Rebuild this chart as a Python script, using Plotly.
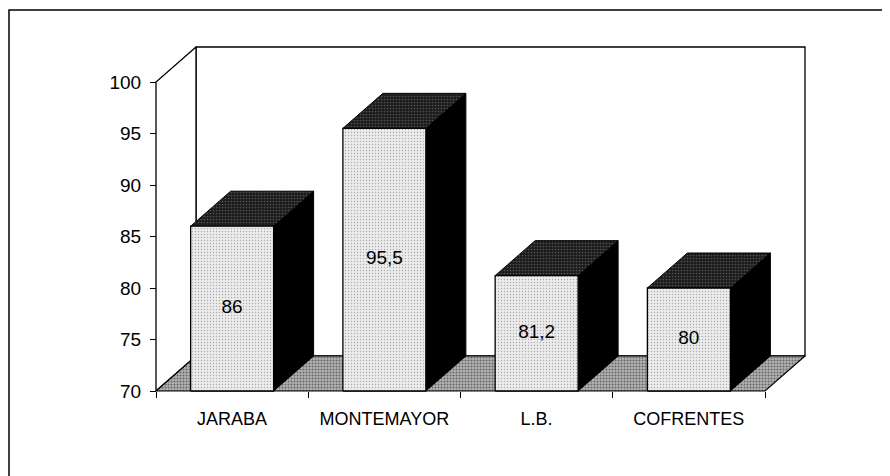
import plotly.graph_objects as go

# ---- data ----
categories = ["JARABA", "MONTEMAYOR", "L.B.", "COFRENTES"]
values = [86, 95.5, 81.2, 80]
value_labels = [f"{v:g}".replace(".", ",") for v in values]
y_ticks = [70, 75, 80, 85, 90, 95, 100]

# ---- geometry ----
W, H = 890, 476
OFF = 8                      # page body margin
X_PX_PER_UNIT = 152.25
Y_PX_PER_UNIT = 10.3
X0_PX = 156 - OFF            # figure pixel of x = -0.5
Y70_PX = 391 - OFF           # figure pixel of y = 70
x_range = [-0.5 - X0_PX / X_PX_PER_UNIT, -0.5 + (W - X0_PX) / X_PX_PER_UNIT]
y_range = [70 - (H - Y70_PX) / Y_PX_PER_UNIT, 70 + Y70_PX / Y_PX_PER_UNIT]
DX = 40 / X_PX_PER_UNIT
DY = 35 / Y_PX_PER_UNIT
BW = 0.545
YMIN, YMAX = 70, 100
XL, XR = -0.5, len(categories) - 0.5

FONT = "Arial, Liberation Sans, sans-serif"

fig = go.Figure()


def poly(xs, ys, fill, line_color="black", pattern=None, width=1):
    kw = {}
    if pattern:
        kw["fillpattern"] = pattern
    fig.add_trace(go.Scatter(
        x=xs + [xs[0]], y=ys + [ys[0]], mode="lines", fill="toself",
        fillcolor=fill, line=dict(color=line_color, width=width),
        hoverinfo="skip", showlegend=False, **kw))


# back wall
poly([XL + DX, XR + DX, XR + DX, XL + DX],
     [YMIN + DY, YMIN + DY, YMAX + DY, YMAX + DY], "white", width=1.3)
# left wall
poly([XL, XL, XL + DX, XL + DX],
     [YMIN, YMAX, YMAX + DY, YMIN + DY], "white", width=1.3)
# floor
poly([XL, XR, XR + DX, XL + DX],
     [YMIN, YMIN, YMIN + DY, YMIN + DY], "#9c9c9c", width=1.2,
     pattern=dict(shape=".", bgcolor="#b4b4b4", fgcolor="#1a1a1a",
                  size=3, solidity=0.4))

# bars: side, top and front faces
for i, v in enumerate(values):
    r = i + BW / 2
    l = i - BW / 2
    poly([r, r, r + DX, r + DX], [YMIN, v, v + DY, YMIN + DY], "black")
    poly([l, r, r + DX, l + DX], [v, v, v + DY, v + DY], "#2a2a2a",
         pattern=dict(shape=".", bgcolor="#1c1c1c", fgcolor="#8a8a8a",
                      size=3, solidity=0.25))
    poly([l, r, r, l], [YMIN, YMIN, v, v], "#e2e2e2", width=1.3,
         pattern=dict(shape=".", bgcolor="#ececec", fgcolor="#6a6a6a",
                      size=3, solidity=0.18))

# value labels inside the front faces
fig.add_trace(go.Scatter(
    x=list(range(len(categories))),
    y=[(YMIN + v) / 2 for v in values],
    mode="text", text=value_labels, textposition="middle center",
    textfont=dict(family=FONT, size=19, color="black"),
    hoverinfo="skip", showlegend=False))

fig.update_layout(
    width=W, height=H,
    margin=dict(l=0, r=0, t=0, b=0),
    paper_bgcolor="white", plot_bgcolor="white",
    font=dict(family=FONT, color="black"),
    showlegend=False,
    xaxis=dict(
        range=x_range, anchor="free", position=(H - Y70_PX) / H,
        showgrid=False, zeroline=False, showline=False,
        tickmode="array", tickvals=list(range(len(categories))),
        ticktext=categories, ticks="", ticklabelstandoff=15,
        tickfont=dict(family=FONT, size=18, color="black"),
        minor=dict(tickmode="array",
                   tickvals=[i - 0.5 for i in range(len(categories) + 1)],
                   ticks="outside", ticklen=6, tickcolor="black", tickwidth=1),
        automargin=False, fixedrange=True,
    ),
    yaxis=dict(
        range=y_range, anchor="free", position=X0_PX / W,
        showgrid=False, zeroline=False, showline=False,
        tickmode="array", tickvals=y_ticks,
        ticks="outside", ticklen=6, tickcolor="black", tickwidth=1,
        ticklabelstandoff=5,
        tickfont=dict(family=FONT, size=19, color="black"),
        automargin=False, fixedrange=True,
    ),
    shapes=[dict(type="rect", xref="paper", yref="paper",
                 x0=1 / W, x1=1.05, y0=-0.05, y1=1 - 2 / H,
                 line=dict(color="black", width=1.5), fillcolor="rgba(0,0,0,0)",
                 layer="below")],
)

fig.write_html("out.html")
